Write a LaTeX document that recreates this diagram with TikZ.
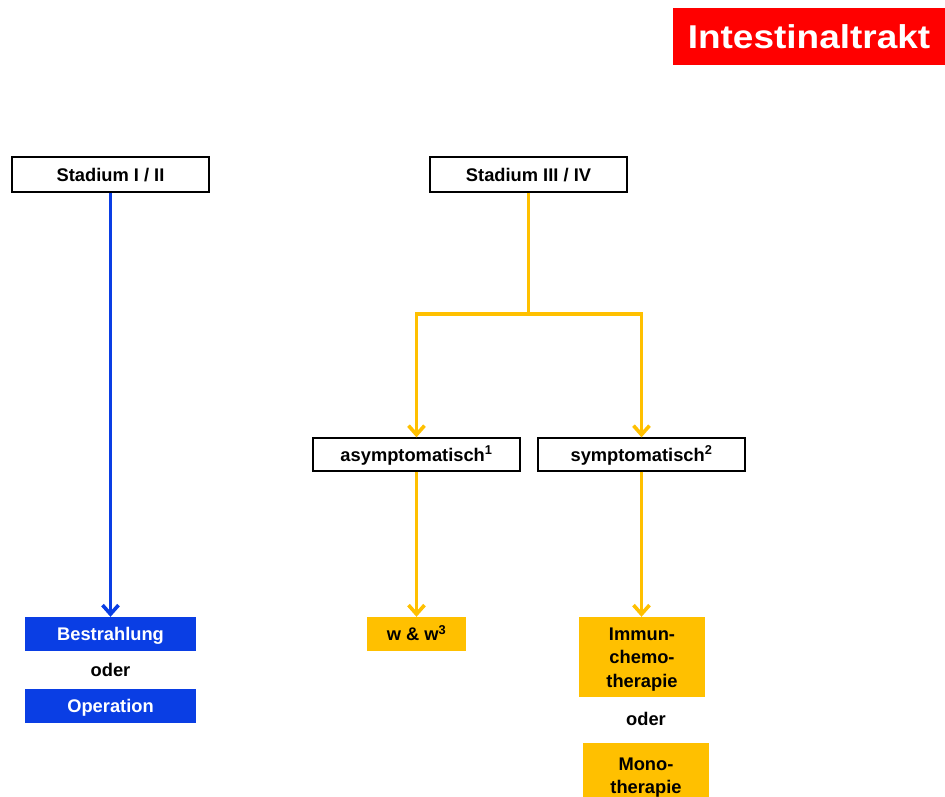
\documentclass[tikz,border=0pt]{standalone}
\usepackage{fontspec}
\setmainfont{Liberation Sans}
\usetikzlibrary{arrows.meta}
\definecolor{myblue}{RGB}{10,62,228}
\definecolor{myyellow}{RGB}{255,192,0}
\definecolor{myred}{RGB}{255,0,0}
\begin{document}
\begin{tikzpicture}[x=1pt,y=-1pt,
  every node/.style={font=\fontsize{18.3}{23.5}\selectfont\bfseries, inner sep=0pt},
  one/.style={text height=13.1pt, text depth=0pt},
  wbox/.style={one, draw=black, line width=1.3pt, fill=white, minimum height=35pt},
  bbox/.style={one, fill=myblue, text=white, minimum width=171pt, minimum height=34pt},
  ybox/.style={fill=myyellow, text=black},
  tip/.style={-{Straight Barb[length=9pt,width=16pt]}},
  bcon/.style={draw=myblue, line width=3.6pt, tip},
  ycon/.style={draw=myyellow, line width=3.6pt, tip},
  yline/.style={draw=myyellow, line width=3.6pt}
]
\useasboundingbox (0,0) rectangle (945,796);
% title
\node[text height=23.6pt, text depth=0pt, fill=myred, text=white, minimum width=272pt, minimum height=57pt, font=\fontsize{33}{36}\selectfont\bfseries] (title) at (809,36.5) {\scalebox{1.12}[1]{Intestinaltrakt}};
% top boxes
\node[wbox, minimum width=197pt] (s12) at (110.5,174.5) {Stadium I / II};
\node[wbox, minimum width=197pt] (s34) at (528.5,174.5) {Stadium III / IV};
% middle boxes
\node[wbox, minimum width=207pt, minimum height=33pt] (asy) at (416.5,454.5) {asymptomatisch\textsuperscript{1}};
\node[wbox, minimum width=207pt, minimum height=33pt] (sym) at (641.5,454.5) {symptomatisch\textsuperscript{2}};
% bottom left
\node[bbox] (bes) at (110.5,634) {Bestrahlung};
\node[one] (oder1) at (110.5,670) {oder};
\node[bbox] (ope) at (110.5,706) {Operation};
% w & w
\node[one, ybox, minimum width=99pt, minimum height=34pt] (ww) at (416.5,634) {w \& w\textsuperscript{3}};
% immun
\node[ybox, minimum width=126pt, minimum height=80pt, align=center] (imm) at (642,657) {\rule{0pt}{17pt}Immun-\\chemo-\\therapie};
\node[one] (oder2) at (646,719) {oder};
\node[ybox, minimum width=126pt, minimum height=64pt, align=center, anchor=north] (mono) at (646,743) {\rule{0pt}{17pt}Mono-\\therapie};
% connectors
\draw[bcon] (s12.south) -- (bes.north);
\coordinate (split) at (528.5,314);
\draw[yline] (s34.south) -- (split);
\draw[ycon] (split) -| (asy.north);
\draw[ycon] (split) -| (sym.north);
\draw[ycon] (asy.south) -- (ww.north);
\draw[ycon] (sym.south) -- (sym.south |- imm.north);
\end{tikzpicture}
\end{document}
